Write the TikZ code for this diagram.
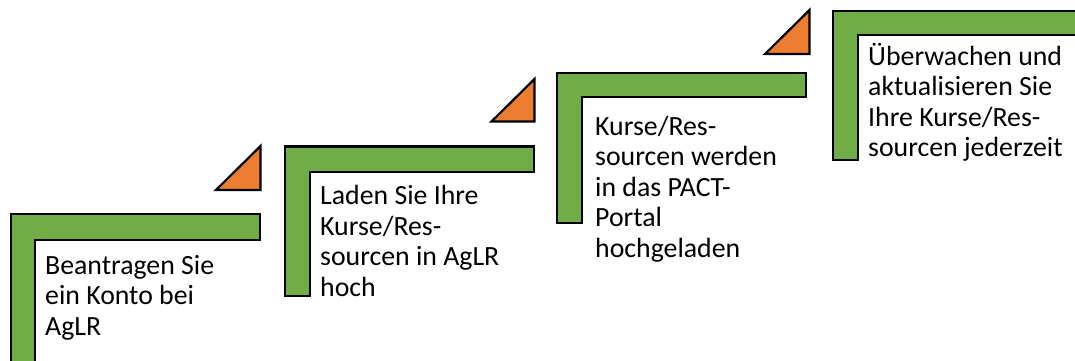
\documentclass[tikz,border=0pt]{standalone}
\usepackage{fontspec}
\setmainfont{Carlito}
\definecolor{stepgreen}{HTML}{70AD47}
\definecolor{steporange}{HTML}{ED7D31}
\begin{document}
\begin{tikzpicture}[x=1pt,y=-1pt,
  stepshape/.style={fill=stepgreen,draw=black,line width=2.2pt,line join=miter},
  tri/.style={fill=steporange,draw=black,line width=2.2pt,line join=miter},
  steptext/.style={anchor=base west,inner sep=0pt,align=left,font=\fontsize{27.8}{30.5}\selectfont}]
\useasboundingbox (0,0) rectangle (1075,361);
\clip (0,0) rectangle (1075,361);
% step 1
\draw[stepshape] (11,214) -- (260,214) -- (260,240) -- (35,240) -- (35,370) -- (11,370) -- cycle;
% step 2
\draw[stepshape] (285,146.5) -- (534,146.5) -- (534,172) -- (310,172) -- (310,296) -- (285,296) -- cycle;
% step 3
\draw[stepshape] (557,73) -- (806,73) -- (806,97) -- (582,97) -- (582,223) -- (557,223) -- cycle;
% step 4
\draw[stepshape] (833,11) -- (1085,11) -- (1085,35) -- (858,35) -- (858,160) -- (833,160) -- cycle;
% triangles
\draw[tri] (216,190) -- (260.5,190) -- (260.5,146) -- cycle;
\draw[tri] (491.5,121.5) -- (534.5,121.5) -- (534.5,79) -- cycle;
\draw[tri] (765,54) -- (809.5,54) -- (809.5,10) -- cycle;
% texts (anchored at the baseline of the last line)
\node[steptext] (t1) at (45,335) {Beantragen Sie\\ein Konto bei\\AgLR};
\node[steptext] (t2) at (320,296) {Laden Sie Ihre\\Kurse/Res-\\sourcen in AgLR\\hoch};
\node[steptext] (t3) at (595,257.3) {Kurse/Res-\\sourcen werden\\in das PACT-\\Portal\\hochgeladen};
\node[steptext] (t4) at (868,156.7) {Überwachen und\\aktualisieren Sie\\Ihre Kurse/Res-\\sourcen jederzeit};
\end{tikzpicture}
\end{document}
